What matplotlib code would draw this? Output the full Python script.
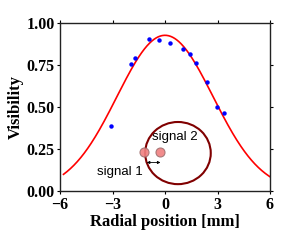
import numpy as np
import matplotlib
matplotlib.use("Agg")
import matplotlib.pyplot as plt
from matplotlib.patches import Ellipse

# Measured visibility data
pos_mm = [-3.1, -1.96, -1.73, -0.9, -0.33, 0.29, 1.03, 1.41, 1.79, 2.42, 2.95, 3.37]
visibility = [0.387, 0.756, 0.793, 0.903, 0.897, 0.881, 0.845, 0.815, 0.76, 0.649, 0.498, 0.462]

# Gaussian fit parameters
fit_amp = 0.927
fit_center = 0.0
fit_sigma = 2.745

xticks = [-6, -3, 0, 3, 6]
yticks = [0.0, 0.25, 0.5, 0.75, 1.0]

fig = plt.figure(figsize=(3.0, 2.4), dpi=100)
ax = fig.add_axes([0.2, 0.204, 0.7, 0.7])

xf = np.linspace(-5.8, 6.0, 300)
yf = fit_amp * np.exp(-(xf - fit_center) ** 2 / (2 * fit_sigma ** 2))
ax.plot(xf, yf, color='red', lw=1.2, zorder=2)
ax.plot(pos_mm, visibility, 'o', color='blue', ms=3.2, mec='none', zorder=3)

# inset schematic
ax.add_patch(Ellipse((0.74, 0.226), 3.75, 0.37, fill=False, ec='#800000', lw=1.5, zorder=4))
ax.plot([-1.2, -0.29], [0.232, 0.232], 'o', ms=6.5, color='#f08080', mec='#a07070', mew=0.8, alpha=0.9, zorder=5)
ax.annotate('', xy=(-0.1, 0.17), xytext=(-1.2, 0.17),
            arrowprops=dict(arrowstyle='<|-|>', color='black', lw=0.6, mutation_scale=4), zorder=6)
ax.text(-0.72, 0.32, 'signal 2', fontsize=9.5, family='Liberation Sans', va='center', ha='left')
ax.text(-3.9, 0.115, 'signal 1', fontsize=9.5, family='Liberation Sans', va='center', ha='left')

ax.set_xlim(-6, 6)
ax.set_ylim(0, 1)
ax.set_xticks(xticks)
ax.set_yticks(yticks)
ax.set_xticklabels(['\u2212' + str(-t) if t < 0 else str(t) for t in xticks])
ax.set_yticklabels(['%.2f' % t for t in yticks])
for lab in ax.get_xticklabels() + ax.get_yticklabels():
    lab.set_family('Liberation Serif')
    lab.set_fontweight('bold')
    lab.set_fontsize(11.5)
ax.tick_params(direction='out', length=2.5, width=0.8, top=True, right=True, pad=1.5)
for s in ax.spines.values():
    s.set_linewidth(1.0)
    s.set_color('#222222')
ax.set_xlabel('Radial position [mm]', family='Liberation Serif', fontweight='bold', fontsize=12, labelpad=1)
ax.set_ylabel('Visibility', family='Liberation Serif', fontweight='bold', fontsize=12, labelpad=2)

fig.savefig('out.png', dpi=100)
